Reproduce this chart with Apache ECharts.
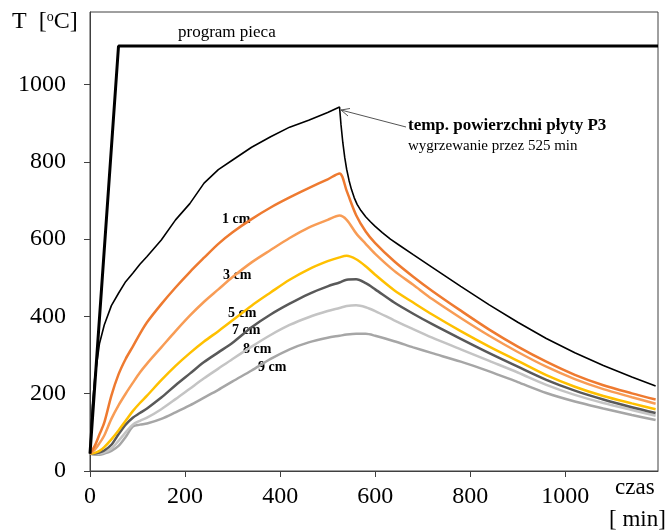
<!DOCTYPE html>
<html>
<head>
<meta charset="utf-8">
<script src="https://cdn.jsdelivr.net/npm/echarts@6/dist/echarts.min.js"></script>
<style>
html, body { margin: 0; padding: 0; background: #fff; }
#chart { width: 669px; height: 532px; }
</style>
</head>
<body>
<div id="chart"></div>
<script>
// czas [min] - wspolna siatka dla krzywych na glebokosciach
var time = [0, 10, 20, 30, 45, 60, 75, 90, 105, 120, 150, 180, 210, 240, 270, 300, 340, 380, 420, 460, 500, 525, 540, 560, 580, 600, 640, 680, 720, 780, 840, 900, 960, 1020, 1080, 1140, 1190];

var depth1 = [45, 65, 95, 125, 195, 250, 290, 322, 355, 385, 432, 475, 515, 552, 588, 618, 652, 682, 708, 732, 755, 770, 725, 662, 620, 590, 543, 503, 466, 415, 366, 322, 283, 249, 222, 201, 185];
var depth3 = [45, 55, 72, 92, 135, 170, 200, 228, 255, 278, 320, 362, 402, 438, 470, 502, 540, 572, 603, 630, 650, 661, 650, 615, 588, 562, 518, 482, 445, 396, 350, 308, 270, 238, 212, 191, 174];
var depth5 = [45, 47, 52, 62, 82, 105, 130, 155, 176, 195, 235, 272, 305, 335, 362, 390, 428, 462, 495, 522, 543, 553, 557, 548, 530, 508, 468, 436, 405, 362, 322, 285, 248, 218, 194, 175, 160];
var depth7 = [45, 45, 48, 53, 68, 95, 120, 138, 150, 162, 190, 222, 252, 282, 307, 332, 372, 405, 433, 458, 478, 488, 495, 496, 486, 470, 436, 407, 380, 342, 305, 270, 236, 208, 185, 165, 150];
var depth8 = [45, 44, 45, 48, 58, 78, 100, 120, 130, 138, 160, 186, 213, 240, 265, 290, 322, 352, 378, 398, 414, 422, 427, 429, 424, 414, 390, 367, 345, 315, 285, 255, 223, 197, 176, 158, 143];
var depth9 = [45, 42, 42, 45, 52, 65, 88, 115, 120, 123, 135, 152, 170, 190, 210, 232, 260, 290, 315, 333, 345, 350, 353, 355, 355, 350, 336, 320, 305, 283, 258, 230, 202, 180, 162, 145, 132];

// temperatura powierzchni plyty P3
var surfTime = [0, 5, 10, 20, 30, 45, 60, 75, 90, 105, 120, 150, 180, 210, 240, 270, 300, 340, 380, 420, 460, 500, 525, 528, 532, 536, 540, 545, 550, 556, 562, 570, 580, 590, 600, 615, 632, 650, 680, 720, 780, 840, 900, 960, 1020, 1080, 1140, 1190];
var surfTemp = [45, 170, 240, 330, 378, 428, 460, 490, 512, 535, 555, 598, 650, 692, 745, 780, 805, 838, 865, 890, 908, 928, 942, 897, 849, 811, 781, 752, 729, 707, 690, 674, 658, 645, 633, 617, 600, 585, 560, 527, 478, 430, 385, 343, 306, 273, 243, 220];

var programTime = [0, 60, 1195];
var programTemp = [45, 1100, 1100];

var tickValues = [0, 200, 400, 600, 800, 1000];

function pairs(xs, ys) {
	return xs.map(function (x, i) { return [x, ys[i]]; });
}

var serif = 'Liberation Serif';

function curve(name, data, color) {
	return {
		name: name,
		type: 'line',
		data: pairs(time, data),
		showSymbol: false,
		smooth: 0.3,
		lineStyle: { color: color, width: 2.5 }
	};
}

function plain(v) {
	return String(v);
}

var chart = echarts.init(document.getElementById('chart'));

var option = {
	animation: false,
	backgroundColor: '#fff',
	grid: {
		left: 90, right: 11, top: 12, bottom: 61,
		show: true, borderColor: '#404040', borderWidth: 1
	},
	xAxis: {
		type: 'value', min: 0, max: 1195,
		axisLine: { lineStyle: { color: '#404040', width: 1 } },
		axisTick: { customValues: tickValues, length: 6, lineStyle: { color: '#404040' } },
		axisLabel: { customValues: tickValues, formatter: plain, margin: 14, color: '#000', fontFamily: serif, fontSize: 24 },
		splitLine: { show: false }
	},
	yAxis: {
		type: 'value', min: 0, max: 1188,
		axisLine: { show: true, lineStyle: { color: '#404040', width: 1 } },
		axisTick: { show: true, customValues: tickValues, length: 6, lineStyle: { color: '#404040' } },
		axisLabel: { customValues: tickValues, formatter: plain, margin: 24, color: '#000', fontFamily: serif, fontSize: 24 },
		splitLine: { show: false }
	},
	series: [
		curve('9 cm', depth9, '#A6A6A6'),
		curve('8 cm', depth8, '#C4C4C4'),
		curve('7 cm', depth7, '#595959'),
		curve('5 cm', depth5, '#FFC000'),
		curve('3 cm', depth3, '#F89C55'),
		curve('1 cm', depth1, '#EE7A30'),
		{
			name: 'powierzchnia',
			type: 'line',
			data: pairs(surfTime, surfTemp),
			showSymbol: false,
			lineStyle: { color: '#000', width: 1.6 }
		},
		{
			name: 'program pieca',
			type: 'line',
			data: pairs(programTime, programTemp),
			showSymbol: false,
			lineStyle: { color: '#000', width: 3 }
		}
	],
	graphic: [
		{
			type: 'text', left: 12, top: 10,
			style: {
				text: 'T  [{s|o}C]', fill: '#000', font: '24px ' + serif,
				rich: { s: { fontSize: 14, fontFamily: serif, verticalAlign: 'top', fill: '#000' } }
			}
		},
		{ type: 'text', left: 178, top: 24, style: { text: 'program pieca', fill: '#000', font: '17px ' + serif } },
		{ type: 'text', left: 408, top: 117, style: { text: 'temp. powierzchni płyty P3', fill: '#000', font: 'bold 17px ' + serif } },
		{ type: 'text', left: 408, top: 139, style: { text: 'wygrzewanie przez 525 min', fill: '#000', font: '15px ' + serif } },
		{ type: 'line', shape: { x1: 341, y1: 110, x2: 406, y2: 127 }, style: { stroke: '#555', lineWidth: 1 } },
		{ type: 'polyline', shape: { points: [[348, 116], [341, 110], [350, 108.5]] }, style: { stroke: '#555', lineWidth: 1, fill: null } },
		{ type: 'text', left: 222, top: 212, style: { text: '1 cm', fill: '#000', font: 'bold 14px ' + serif } },
		{ type: 'text', left: 223, top: 268, style: { text: '3 cm', fill: '#000', font: 'bold 14px ' + serif } },
		{ type: 'text', left: 228, top: 306, style: { text: '5 cm', fill: '#000', font: 'bold 14px ' + serif } },
		{ type: 'text', left: 232, top: 323, style: { text: '7 cm', fill: '#000', font: 'bold 14px ' + serif } },
		{ type: 'text', left: 243, top: 342, style: { text: '8 cm', fill: '#000', font: 'bold 14px ' + serif } },
		{ type: 'text', left: 258, top: 360, style: { text: '9 cm', fill: '#000', font: 'bold 14px ' + serif } },
		{ type: 'text', left: 615, top: 476, style: { text: 'czas', fill: '#000', font: '23px ' + serif } },
		{ type: 'text', left: 609, top: 508, style: { text: '[ min]', fill: '#000', font: '23px ' + serif } }
	]
};

chart.setOption(option);
</script>
</body>
</html>
